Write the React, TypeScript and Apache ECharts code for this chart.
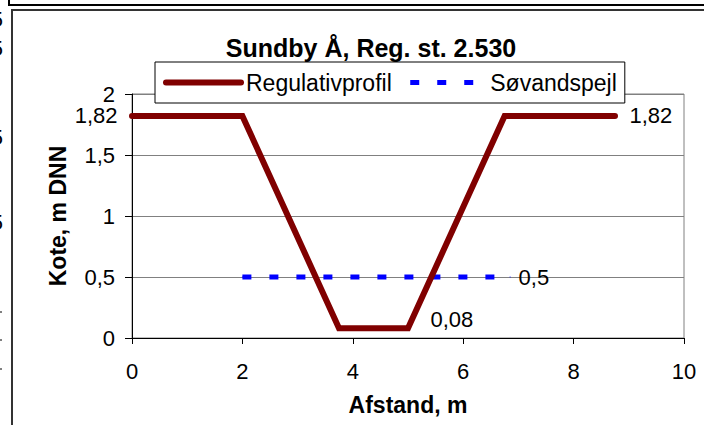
import React, { useEffect, useRef } from "react";
import * as echarts from "echarts";

const chartTitle = "Sundby Å, Reg. st. 2.530";
const xAxisName = "Afstand, m";
const yAxisName = "Kote, m DNN";
const profileName = "Regulativprofil";
const waterName = "Søvandspejl";

const profileX = [0, 2, 3.75, 5, 6.75, 8.75];
const profileY = [1.82, 1.82, 0.08, 0.08, 1.82, 1.82];
const waterX = [2, 6.85];
const waterY = [0.5, 0.5];

const FONT = "'Liberation Sans', Arial, sans-serif";
const fmt = (v: number) => String(v).replace(".", ",");

export default function App() {
  const ref = useRef<HTMLDivElement>(null);
  useEffect(() => {
    if (!ref.current) return;
    const chart = echarts.init(ref.current, undefined, { renderer: "svg" });

    const labelBase = { show: true, color: "#000", fontSize: 22, fontFamily: FONT, formatter: (p: any) => fmt(p.value[1]) };
    const profileLabels: Record<number, any> = {
      0: { ...labelBase, position: "left", distance: 14 },
      3: { ...labelBase, position: "right", distance: 22, offset: [0, -9] },
      5: { ...labelBase, position: "right", distance: 14 },
    };
    const waterLabels: Record<number, any> = {
      1: { ...labelBase, position: "right", distance: 8 },
    };

    const profileData = profileX.map((x, i) => ({
      value: [x, profileY[i]],
      label: profileLabels[i] || { show: false },
    }));
    const waterData = waterX.map((x, i) => ({
      value: [x, waterY[i]],
      label: waterLabels[i] || { show: false },
    }));

    const hiddenSymbol = { color: "rgba(0,0,0,0)", borderWidth: 0, borderColor: "rgba(0,0,0,0)" };

    chart.setOption({
      animation: false,
      backgroundColor: "#fff",
      textStyle: { fontFamily: FONT },
      title: {
        text: chartTitle,
        left: 371,
        top: 35,
        textAlign: "center",
        padding: 0,
        textStyle: { fontSize: 25, fontWeight: "bold", color: "#000", fontFamily: FONT },
      },
      legend: {
        left: 155,
        top: 62,
        padding: [9, 8, 9, 8],
        itemGap: 16,
        itemWidth: 75,
        itemHeight: 8,
        borderColor: "#000",
        borderWidth: 1,
        backgroundColor: "#fff",
        textStyle: { fontSize: 23, color: "#000", fontFamily: FONT },
        data: [
          { name: profileName, itemStyle: hiddenSymbol, lineStyle: { width: 6, color: "#800000", cap: "round" } },
          { name: waterName, itemStyle: hiddenSymbol, lineStyle: { width: 5, color: "#0000ff", type: [9, 18], cap: "butt" } },
        ],
        z: 10,
      },
      grid: {
        left: 132,
        right: 20,
        top: 94,
        bottom: 87,
        show: true,
        borderColor: "#808080",
        borderWidth: 1,
        outerBoundsMode: "none",
        containLabel: false,
      },
      xAxis: {
        type: "value",
        min: 0,
        max: 10,
        interval: 2,
        name: xAxisName,
        nameLocation: "middle",
        nameGap: 55,
        nameTextStyle: { fontSize: 23, fontWeight: "bold", color: "#000", fontFamily: FONT },
        axisLine: { show: true, lineStyle: { color: "#000", width: 1 } },
        axisTick: { show: true, inside: false, length: 6, lineStyle: { color: "#000" } },
        axisLabel: { fontSize: 22, color: "#000", margin: 22, fontFamily: FONT, formatter: (v: number) => fmt(v) },
        splitLine: { show: false },
      },
      yAxis: {
        type: "value",
        min: 0,
        max: 2,
        interval: 0.5,
        name: yAxisName,
        nameLocation: "middle",
        nameRotate: 90,
        nameGap: 63,
        nameTextStyle: { fontSize: 23, fontWeight: "bold", color: "#000", fontFamily: FONT },
        axisLine: { show: true, lineStyle: { color: "#000", width: 1 } },
        axisTick: { show: true, inside: false, length: 7, lineStyle: { color: "#000" } },
        axisLabel: { fontSize: 22, color: "#000", margin: 17, fontFamily: FONT, formatter: (v: number) => fmt(v) },
        splitLine: { show: true, lineStyle: { color: "#808080", width: 1 } },
      },
      series: [
        {
          name: profileName,
          type: "line",
          data: profileData,
          symbol: "circle",
          symbolSize: 1,
          itemStyle: { color: "#800000" },
          lineStyle: { color: "#800000", width: 6, cap: "round", join: "miter" },
          z: 3,
        },
        {
          name: waterName,
          type: "line",
          data: waterData,
          symbol: "circle",
          symbolSize: 1,
          itemStyle: { color: "#0000ff" },
          lineStyle: { color: "#0000ff", width: 5, type: [9, 18], cap: "butt" },
          z: 2,
        },
      ],
      graphic: [
        {
          type: "rect",
          shape: { x: 9, y: -10, width: 720, height: 15 },
          style: { fill: "none", stroke: "#000", lineWidth: 2 },
          silent: true,
        },
        {
          type: "rect",
          shape: { x: 12, y: 10, width: 720, height: 440 },
          style: { fill: "none", stroke: "#333", lineWidth: 2 },
          silent: true,
        },
        { type: "text", x: 3, y: 19, style: { text: "2,5", fontSize: 22, fontFamily: FONT, fill: "#000", align: "right", verticalAlign: "middle" } },
        { type: "text", x: 3, y: 48, style: { text: "2,5", fontSize: 22, fontFamily: FONT, fill: "#000", align: "right", verticalAlign: "middle" } },
        { type: "text", x: 3, y: 137, style: { text: "1,5", fontSize: 22, fontFamily: FONT, fill: "#000", align: "right", verticalAlign: "middle" } },
        { type: "text", x: 3, y: 222, style: { text: "0,5", fontSize: 22, fontFamily: FONT, fill: "#000", align: "right", verticalAlign: "middle" } },
        { type: "line", shape: { x1: 0, y1: 312, x2: 2, y2: 312 }, style: { stroke: "#000", lineWidth: 1 } },
        { type: "line", shape: { x1: 0, y1: 340, x2: 2, y2: 340 }, style: { stroke: "#000", lineWidth: 1 } },
        { type: "line", shape: { x1: 0, y1: 369, x2: 2, y2: 369 }, style: { stroke: "#000", lineWidth: 1 } },
      ],
    });
    return () => chart.dispose();
  }, []);

  return <div ref={ref} style={{ width: 704, height: 425, position: "absolute", left: 0, top: 0 }} />;
}
